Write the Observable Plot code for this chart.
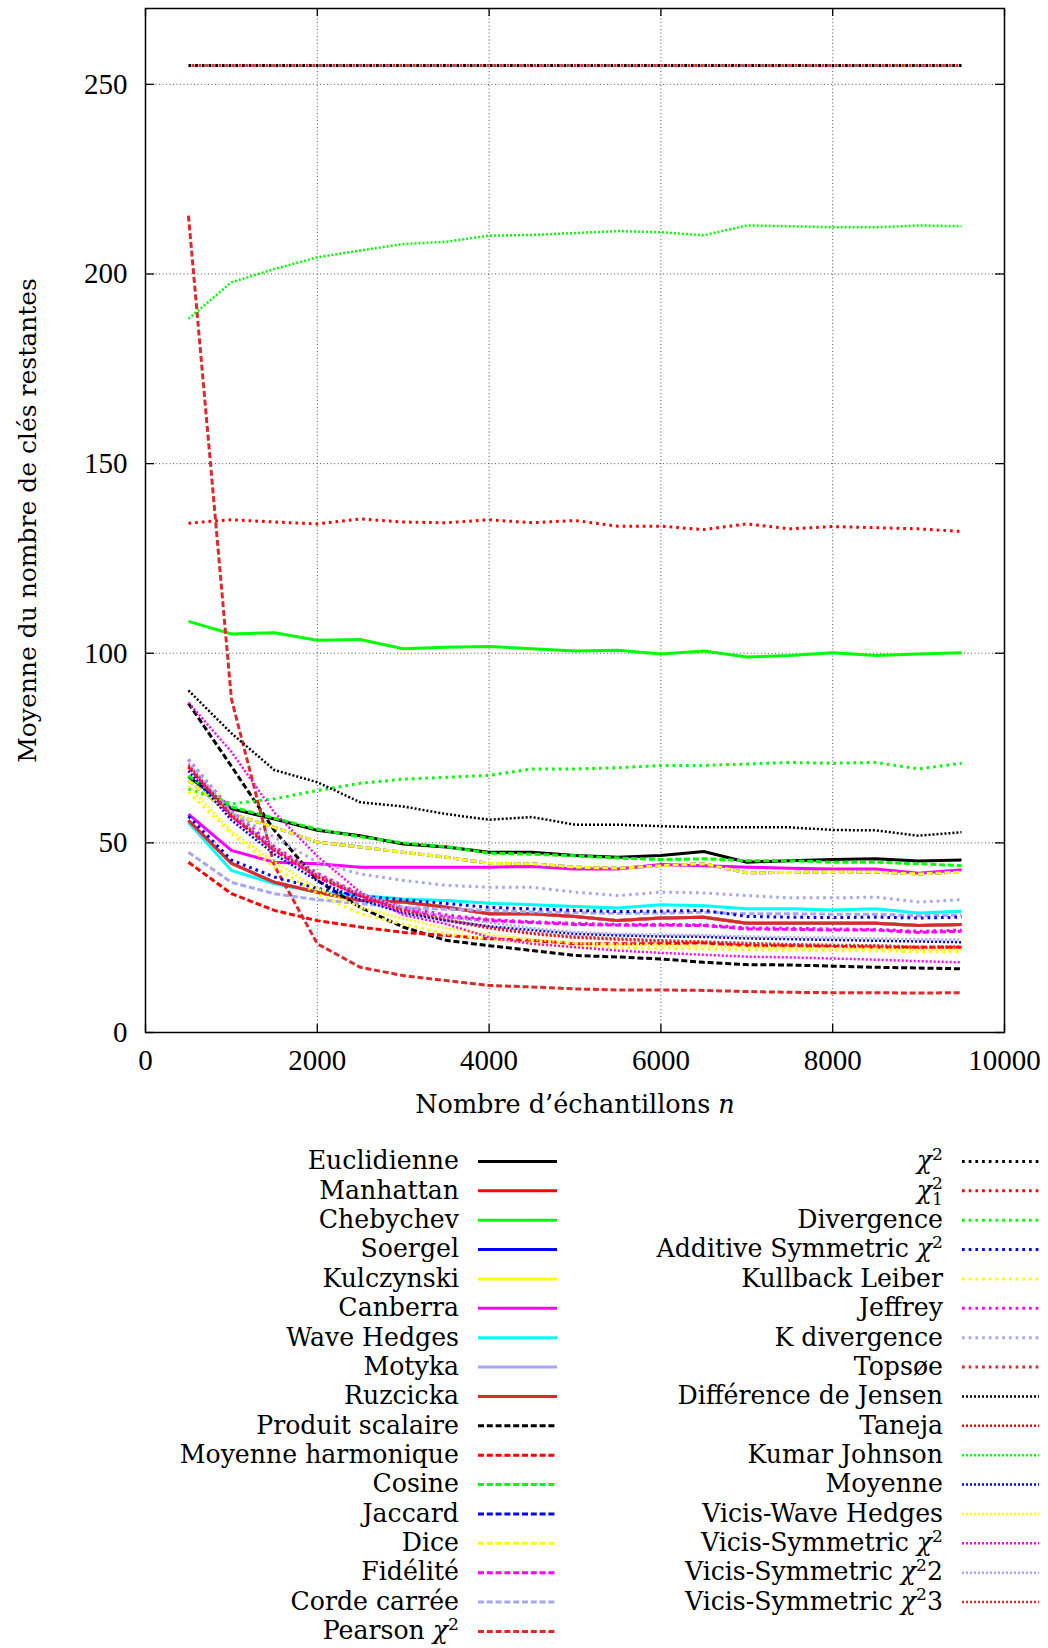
<!DOCTYPE html>
<html><head><meta charset="utf-8">
<script src="https://cdn.jsdelivr.net/npm/d3@7"></script>
<script src="https://cdn.jsdelivr.net/npm/@observablehq/plot@0.6"></script>
<style>
html,body{margin:0;padding:0;background:#fff;}
#chart{width:1048px;}
svg{display:block;}
</style></head><body><div id="chart"></div>
<script>
// ---------- data ----------
const nValues = [500,1000,1500,2000,2500,3000,3500,4000,4500,5000,5500,6000,6500,7000,7500,8000,8500,9000,9500];
const xTicks = [0,2000,4000,6000,8000,10000];
const yTicks = [0,50,100,150,200,250];

const euclidienne = [67.5,59.0,56.3,53.3,51.9,49.7,48.9,47.5,47.5,46.7,46.2,46.7,47.7,44.9,45.3,45.6,45.8,45.2,45.5];
const manhattan = [55.9,44.6,39.6,37.0,34.8,34.4,33.0,31.3,31.3,30.6,29.5,30.2,30.4,28.8,28.8,28.8,28.8,28.2,28.5];
const chebychev = [108.4,105.1,105.4,103.4,103.6,101.2,101.6,101.8,101.2,100.6,100.8,99.8,100.6,99.0,99.4,100.1,99.4,99.8,100.1];
const soergel = [55.9,44.6,39.6,37.0,34.8,34.4,33.0,31.3,31.3,30.6,29.5,30.2,30.4,28.8,28.8,28.8,28.8,28.2,28.5];
const kulczynski = [55.9,44.6,39.6,37.0,34.8,34.4,33.0,31.3,31.3,30.6,29.5,30.2,30.4,28.8,28.8,28.8,28.8,28.2,28.5];
const canberra = [57.6,48.0,44.9,44.5,43.6,43.6,43.6,43.6,43.8,43.1,43.1,44.3,44.0,43.6,43.3,43.1,43.1,42.0,42.9];
const waveHedges = [55.4,42.7,39.2,37.0,36.1,35.2,34.8,34.1,33.7,33.2,32.8,33.7,33.4,32.6,32.6,32.3,32.6,31.5,32.0];
const motyka = [55.9,44.6,39.6,37.0,34.8,34.4,33.0,31.3,31.3,30.6,29.5,30.2,30.4,28.8,28.8,28.8,28.8,28.2,28.5];
const ruzcicka = [55.9,44.6,39.6,37.0,34.8,34.4,33.0,31.3,31.3,30.6,29.5,30.2,30.4,28.8,28.8,28.8,28.8,28.2,28.5];
const produitScalaire = [86.8,70.2,53.3,40.1,33.0,27.8,24.3,22.9,21.6,20.3,19.9,19.4,18.5,17.9,17.8,17.5,17.2,17.0,16.8];
const moyenneHarmonique = [44.9,36.6,32.2,29.5,27.8,26.4,25.6,24.7,24.3,23.4,23.4,23.4,23.6,22.9,22.9,22.7,22.5,22.5,22.5];
const cosine = [67.7,59.5,56.5,53.6,51.6,50.0,49.0,47.3,47.0,46.6,46.0,45.6,45.8,45.3,45.3,44.9,44.9,44.5,44.0];
const jaccard = [66.4,57.6,54.1,50.2,48.9,47.5,46.2,44.6,44.5,43.6,43.3,44.0,44.5,42.1,42.2,42.4,42.3,41.8,42.3];
const dice = [66.4,57.6,54.1,50.2,48.9,47.5,46.2,44.6,44.5,43.6,43.3,44.0,44.5,42.1,42.2,42.4,42.3,41.8,42.3];
const fidelite = [70.0,57.0,48.0,41.0,36.0,32.5,30.5,29.5,29.0,28.5,28.3,28.3,28.2,27.3,27.2,27.0,27.0,26.4,26.7];
const cordeCarree = [47.5,39.6,36.6,35.0,34.0,33.0,32.5,32.2,31.8,31.6,31.4,31.5,31.7,31.3,31.3,31.2,31.2,30.8,31.0];
const pearson = [215.4,88.0,44.0,23.4,17.2,15.0,13.7,12.4,12.0,11.5,11.2,11.2,11.1,10.8,10.6,10.5,10.5,10.4,10.5];
const chi2 = [255,255,255,255,255,255,255,255,255,255,255,255,255,255,255,255,255,255,255];
const chi2One = [134.3,135.2,134.6,134.1,135.4,134.6,134.4,135.2,134.4,135.0,133.5,133.5,132.6,134.1,132.8,133.4,133.1,132.8,132.1];
const divergence = [64.2,60.3,61.6,63.8,65.7,66.8,67.3,67.8,69.5,69.5,69.8,70.4,70.4,70.8,71.2,71.0,71.2,69.5,71.0];
const additiveSym = [57.0,45.5,41.0,38.0,36.0,35.0,34.0,33.0,32.6,32.2,31.9,32.0,32.2,30.6,30.4,30.3,30.4,30.2,30.4];
const kullback = [63.4,52.4,43.6,36.6,31.3,28.6,26.0,24.7,23.4,22.5,22.3,22.2,22.0,21.8,21.7,21.6,21.5,21.3,21.2];
const jeffrey = [72.0,58.5,49.0,42.0,36.5,33.0,31.0,29.8,29.2,28.8,28.5,28.5,28.4,27.6,27.5,27.3,27.2,26.7,27.0];
const kDivergence = [72.1,58.0,51.5,44.9,41.8,40.1,38.8,38.3,38.3,37.0,36.1,37.0,36.8,36.1,35.5,35.5,35.7,34.4,35.0];
const topsoe = [255,255,255,255,255,255,255,255,255,255,255,255,255,255,255,255,255,255,255];
const jensen = [90.2,78.9,69.2,66.0,60.7,59.6,57.6,56.1,56.8,54.8,54.8,54.4,54.1,54.1,54.1,53.4,53.3,51.9,52.8];
const taneja = [70.0,57.0,48.0,41.0,36.0,32.0,29.5,27.5,26.0,25.0,24.5,24.0,23.7,23.3,23.0,22.8,22.7,22.3,22.4];
const kumarJohnson = [188.2,197.8,201.3,204.4,206.2,207.9,208.5,210.1,210.3,210.8,211.3,211.0,210.2,212.8,212.6,212.3,212.3,212.8,212.6];
const moyenne = [69.0,56.0,47.0,40.0,35.0,31.5,29.5,28.0,27.0,26.0,25.6,25.3,25.2,24.8,24.6,24.4,24.2,24.0,23.8];
const vicisWave = [65.0,53.0,45.0,38.0,33.0,30.0,27.5,25.8,24.5,23.6,23.2,23.0,22.8,22.5,22.3,22.2,22.1,21.8,21.8];
const vicisSym1 = [87.0,74.0,58.0,46.5,37.0,31.0,28.6,25.1,23.4,22.5,21.6,21.0,20.5,20.0,19.8,19.5,19.2,18.8,18.5];
const vicisSym2 = [71.0,58.0,48.5,41.5,36.5,33.0,30.5,29.0,27.5,26.5,26.0,25.8,25.7,25.3,25.1,25.0,24.8,24.6,24.5];
const vicisSym3 = [70.5,57.5,48.5,41.5,36.3,32.3,29.8,27.8,26.3,25.3,24.8,24.3,24.0,23.6,23.3,23.1,23.0,22.6,22.7];

const seriesNames = ["Euclidienne","Manhattan","Chebychev","Soergel","Kulczynski","Canberra","Wave Hedges","Motyka","Ruzcicka",
  "Produit scalaire","Moyenne harmonique","Cosine","Jaccard","Dice","Fidélité","Corde carrée","Pearson χ²",
  "χ²","χ₁²","Divergence","Additive Symmetric χ²","Kullback Leiber","Jeffrey","K divergence","Topsøe",
  "Différence de Jensen","Taneja","Kumar Johnson","Moyenne","Vicis-Wave Hedges","Vicis-Symmetric χ²","Vicis-Symmetric χ²2","Vicis-Symmetric χ²3"];
const seriesValues = [euclidienne,manhattan,chebychev,soergel,kulczynski,canberra,waveHedges,motyka,ruzcicka,
  produitScalaire,moyenneHarmonique,cosine,jaccard,dice,fidelite,cordeCarree,pearson,
  chi2,chi2One,divergence,additiveSym,kullback,jeffrey,kDivergence,topsoe,
  jensen,taneja,kumarJohnson,moyenne,vicisWave,vicisSym1,vicisSym2,vicisSym3];

// ---------- styles ----------
const BLACK="#000000", RED="#ff0000", GREEN="#00ff00", BLUE="#0000ff", YELLOW="#ffff00", MAGENTA="#ff00ff", CYAN="#00ffff", LAV="#a6a6f6", BRICK="#dc2a2a";
const seriesColors = [BLACK,RED,GREEN,BLUE,YELLOW,MAGENTA,CYAN,LAV,BRICK,
  BLACK,RED,GREEN,BLUE,YELLOW,MAGENTA,LAV,BRICK,
  BLACK,RED,GREEN,BLUE,YELLOW,MAGENTA,LAV,BRICK,
  BLACK,RED,GREEN,BLUE,YELLOW,MAGENTA,LAV,BRICK];
const seriesKinds = [].concat(Array(9).fill("solid"), Array(8).fill("dashed"), Array(8).fill("dotted"), Array(8).fill("fine"));
const kindStyle = {
  solid:  {strokeWidth: 3, strokeDasharray: null},
  dashed: {strokeWidth: 3, strokeDasharray: "6,2.8"},
  dotted: {strokeWidth: 3, strokeDasharray: "2.7,4"},
  fine:   {strokeWidth: 2.5, strokeDasharray: "2,2"}
};
// phase shift so the overlapping Topsøe dots interleave with χ² dots (as in the original)
const dashOffsetByName = {"Topsøe": 3.35};

// ---------- chart ----------
const W = 1048, H = 1125, ML = 145, MR = 44, MT = 8, MB = 93;
const plotW = W - ML - MR, plotH = H - MT - MB;
const xTitle = "Nombre d’échantillons n";
const yTitle = "Moyenne du nombre de clés restantes";
const titleFont = "'DejaVu Serif', serif";

const lineMarks = seriesValues.map((vals, i) => {
  const rows = nValues.map((n, j) => ({n, v: vals[j]}));
  const st = kindStyle[seriesKinds[i]];
  return Plot.line(rows, {x: "n", y: "v", stroke: seriesColors[i], strokeWidth: st.strokeWidth,
    strokeDasharray: st.strokeDasharray, strokeDashoffset: dashOffsetByName[seriesNames[i]] || 0,
    strokeLinecap: "butt", strokeLinejoin: "miter", strokeMiterlimit: 2});
});

const chart = Plot.plot({
  width: W, height: H, marginLeft: ML, marginRight: MR, marginTop: MT, marginBottom: MB,
  x: {domain: [0, 10000]},
  y: {domain: [0, 270]},
  style: {background: "#fff", fontFamily: "'Liberation Serif', serif", fontSize: "29px", color: "#000", overflow: "visible"},
  marks: [
    Plot.ruleX(xTicks.slice(1, -1), {x: d => d, stroke: "#555", strokeWidth: 1, strokeDasharray: "1,2.5"}),
    Plot.ruleY(yTicks.slice(1), {y: d => d, stroke: "#555", strokeWidth: 1, strokeDasharray: "1,2.5"}),
    ...lineMarks,
    Plot.frame({stroke: "#000", strokeWidth: 1.5}),
    Plot.tickX(xTicks, {x: d => d, insetTop: plotH - 8, stroke: "#000", strokeWidth: 1.3}),
    Plot.tickX(xTicks, {x: d => d, insetBottom: plotH - 8, stroke: "#000", strokeWidth: 1.3}),
    Plot.tickY(yTicks, {y: d => d, insetRight: plotW - 9, stroke: "#000", strokeWidth: 1.3}),
    Plot.tickY(yTicks, {y: d => d, insetLeft: plotW - 9, stroke: "#000", strokeWidth: 1.3}),
    Plot.axisX(xTicks, {anchor: "bottom", tickSize: 0, tickPadding: 17, label: null, tickFormat: d => String(d)}),
    Plot.axisY(yTicks, {anchor: "left", tickSize: 0, tickPadding: 18, label: null, tickFormat: d => String(d)}),
    Plot.text([xTitle], {text: d => d, frameAnchor: "bottom", textAnchor: "middle", lineAnchor: "middle", dy: 72, fontFamily: titleFont, fontSize: 25.5}),
    Plot.text([yTitle], {text: d => d, frameAnchor: "left", textAnchor: "middle", lineAnchor: "middle", dx: -118, rotate: -90, fontFamily: titleFont, fontSize: 25})
  ]
});
document.getElementById("chart").appendChild(chart);

// italic n in the x title
d3.select(chart).selectAll("text").filter(function() { return this.textContent === xTitle; })
  .each(function() {
    const t = d3.select(this);
    t.text(null);
    t.append("tspan").text("Nombre d’échantillons ");
    t.append("tspan").attr("font-style", "italic").text("n");
  });

// ---------- legend ----------
function richLabel(sel, label, fs) {
  let run = "", cur = 0, prevSub = false;
  const small = fs * 0.68;
  const flush = () => {
    if (!run) return;
    const t = sel.append("tspan").text(run);
    if (cur) { t.attr("dy", cur); cur = 0; }
    run = ""; prevSub = false;
  };
  for (const c of Array.from(label)) {
    if (c === "χ") {
      flush();
      const t = sel.append("tspan").attr("font-style", "italic").text("χ");
      if (cur) { t.attr("dy", cur); cur = 0; }
      prevSub = false;
    } else if (c === "²") {
      flush();
      const target = fs * 0.38;
      const t = sel.append("tspan").attr("font-size", small).attr("dy", cur - target).text("2");
      if (prevSub) t.attr("dx", -small * 0.64);
      cur = target; prevSub = false;
    } else if (c === "₁") {
      flush();
      const target = -fs * 0.26;
      sel.append("tspan").attr("font-size", small).attr("dy", cur - target).text("1");
      cur = target; prevSub = true;
    } else {
      run += c;
    }
  }
  flush();
}

const LH = 1648 - H;
const legend = d3.create("svg").attr("width", W).attr("height", LH).attr("viewBox", `0 0 ${W} ${LH}`)
  .style("background", "#fff").style("display", "block");
const leftCount = 17, rowY0 = 36.5, rowDy = 29.37, legendFs = 25.2;
seriesNames.forEach((name, i) => {
  const col = i < leftCount ? 0 : 1;
  const row = col ? i - leftCount : i;
  const y = rowY0 + row * rowDy;
  const textX = col ? 943 : 459;
  const x1 = col ? 962 : 478, x2 = col ? 1039 : 557;
  const st = kindStyle[seriesKinds[i]];
  legend.append("line").attr("x1", x1).attr("x2", x2).attr("y1", y).attr("y2", y)
    .attr("stroke", seriesColors[i]).attr("stroke-width", st.strokeWidth)
    .attr("stroke-dasharray", st.strokeDasharray).attr("stroke-linecap", "butt");
  const t = legend.append("text").attr("x", textX).attr("y", y + 7.8).attr("text-anchor", "end")
    .attr("font-family", titleFont).attr("font-size", legendFs).attr("fill", "#000");
  richLabel(t, name, legendFs);
});
document.getElementById("chart").appendChild(legend.node());
</script>
</body></html>
